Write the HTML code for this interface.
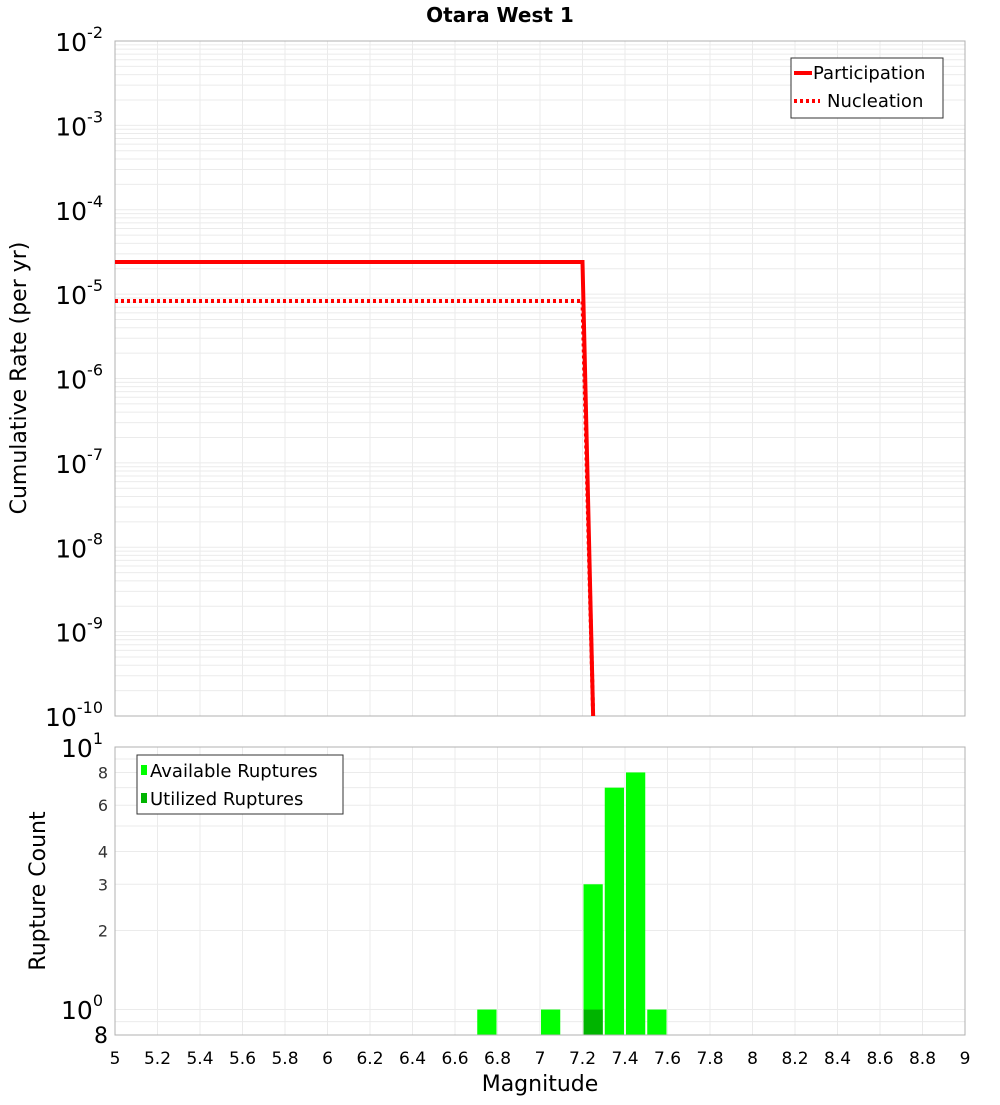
<!DOCTYPE html>
<html><head><meta charset="utf-8"><style>
body{margin:0;background:#fff;font-family:"Liberation Sans","DejaVu Sans",sans-serif}
svg text{font-family:"DejaVu Sans","Liberation Sans",sans-serif}
</style></head><body>
<svg id="c" width="1000" height="1100" xmlns="http://www.w3.org/2000/svg">
<text x="500" y="22" text-anchor="middle" font-size="20" font-weight="bold">Otara West 1</text>
<g id="topg"></g><g id="botg"></g>
</svg>
<script>
const xTicks=[5,5.2,5.4,5.6,5.8,6,6.2,6.4,6.6,6.8,7,7.2,7.4,7.6,7.8,8,8.2,8.4,8.6,8.8,9];
const partMag=[5,7.2,7.25];
const partRate=[2.4e-5,2.4e-5,1e-10];
const nuclMag=[5,7.2,7.25];
const nuclRate=[8.3e-6,8.3e-6,1e-10];
const topExps=[-2,-3,-4,-5,-6,-7,-8,-9,-10];
const binStart=[6.7,7.0,7.2,7.3,7.4,7.5];
const availCount=[1,1,3,7,8,1];
const utilCount=[0,0,1,0,0,0];
const botTicks=[8,6,4,3,2];
const NS="http://www.w3.org/2000/svg";
function mk(p,t,a,txt){const e=document.createElementNS(NS,t);for(const k in a)e.setAttribute(k,a[k]);if(txt!==undefined)e.textContent=txt;p.appendChild(e);return e;}
const X0=115,X1=965;
const xs=m=>X0+(m-5)/4*(X1-X0);
const T0=41,T1=716;
const ty=v=>T0+(-2-Math.log10(v))/8*(T1-T0);
const B0=747,B1=1035;
const by=v=>B0+(1-Math.log10(v))/(1-Math.log10(0.8))*(B1-B0);
const topG=document.getElementById('topg'),botG=document.getElementById('botg');
for(let e=-10;e<-2;e++)for(let k=1;k<10;k++){const y=ty(k*Math.pow(10,e));const l=mk(topG,'line',{x1:X0,x2:X1,y1:y,y2:y,stroke:'#ebebeb','stroke-width':1});

}
xTicks.forEach(m=>{const l=mk(topG,'line',{x1:xs(m),x2:xs(m),y1:T0,y2:T1,stroke:'#ebebeb'});


const l2=mk(botG,'line',{x1:xs(m),x2:xs(m),y1:B0,y2:B1,stroke:'#ebebeb'});


const t=mk(botG,'text',{x:xs(m),y:1064,'text-anchor':'middle','font-size':17},String(m));

});
mk(topG,'rect',{x:X0,y:T0,width:X1-X0,height:T1-T0,fill:'none',stroke:'#b0b0b0'});
topExps.forEach(e=>{const y=ty(Math.pow(10,e));const t=mk(topG,'text',{x:103,y:y+10,'text-anchor':'end','font-size':25});


mk(t,'tspan',{},'10');mk(t,'tspan',{dy:-13,'font-size':16},String(e));});
function pathOf(ms,rs){return ms.map((m,i)=>(i?'L':'M')+xs(m)+','+ty(rs[i])).join(' ');}
const np=mk(topG,'path',{d:pathOf(nuclMag,nuclRate),fill:'none',stroke:'#ff0000','stroke-width':4,'stroke-dasharray':'3,3'});


const pp=mk(topG,'path',{d:pathOf(partMag,partRate),fill:'none',stroke:'#ff0000','stroke-width':4});


const lg=mk(topG,'g',{});


mk(lg,'rect',{x:791,y:58,width:152,height:60,fill:'#fff',stroke:'#333'});
mk(lg,'line',{x1:794,x2:812,y1:73,y2:73,stroke:'#f00','stroke-width':4});
mk(lg,'line',{x1:794,x2:820,y1:101,y2:101,stroke:'#f00','stroke-width':4,'stroke-dasharray':'3,3'});
mk(lg,'text',{x:813,y:79,'font-size':18},'Participation');
mk(lg,'text',{x:827,y:107,'font-size':18},'Nucleation');
mk(topG,'text',{x:26,y:378,'text-anchor':'middle','font-size':22,transform:'rotate(-90 26 378)'},'Cumulative Rate (per yr)');
for(let k=2;k<10;k++){const y=by(k);const l=mk(botG,'line',{x1:X0,x2:X1,y1:y,y2:y,stroke:'#ebebeb'});

}
mk(botG,'line',{x1:X0,x2:X1,y1:by(0.9),y2:by(0.9),stroke:'#ebebeb'});
mk(botG,'line',{x1:X0,x2:X1,y1:by(1),y2:by(1),stroke:'#ebebeb'});
binStart.forEach((b,i)=>{const x=xs(b)+1,w=xs(b+0.1)-xs(b)-2;
const r=mk(botG,'rect',{x:x,y:by(availCount[i]),width:w,height:B1-by(availCount[i]),fill:'#00ff00'});


if(utilCount[i]>0){const u=mk(botG,'rect',{x:x,y:by(utilCount[i]),width:w,height:B1-by(utilCount[i]),fill:'#00b400'});

}});
mk(botG,'rect',{x:X0,y:B0,width:X1-X0,height:B1-B0,fill:'none',stroke:'#b0b0b0'});
botTicks.forEach(v=>{const t=mk(botG,'text',{x:108,y:by(v)+6,'text-anchor':'end','font-size':16,fill:'#333'},String(v));

});
let t1=mk(botG,'text',{x:103,y:757,'text-anchor':'end','font-size':25});mk(t1,'tspan',{},'10');mk(t1,'tspan',{dy:-13,'font-size':16},'1');
let t0=mk(botG,'text',{x:103,y:1019,'text-anchor':'end','font-size':25});mk(t0,'tspan',{},'10');mk(t0,'tspan',{dy:-13,'font-size':16},'0');
mk(botG,'text',{x:108,y:1043,'text-anchor':'end','font-size':22},'8');
const bl=mk(botG,'g',{});


mk(bl,'rect',{x:137,y:755,width:206,height:59,fill:'#fff',stroke:'#333'});
mk(bl,'rect',{x:141,y:765,width:6,height:10,fill:'#00ff00'});
mk(bl,'rect',{x:141,y:793,width:6,height:10,fill:'#00b400'});
mk(bl,'text',{x:150,y:777,'font-size':18},'Available Ruptures');
mk(bl,'text',{x:150,y:805,'font-size':18},'Utilized Ruptures');
mk(botG,'text',{x:45,y:891,'text-anchor':'middle','font-size':22,transform:'rotate(-90 45 891)'},'Rupture Count');
mk(botG,'text',{x:540,y:1091,'text-anchor':'middle','font-size':22},'Magnitude');
</script>
</body></html>
